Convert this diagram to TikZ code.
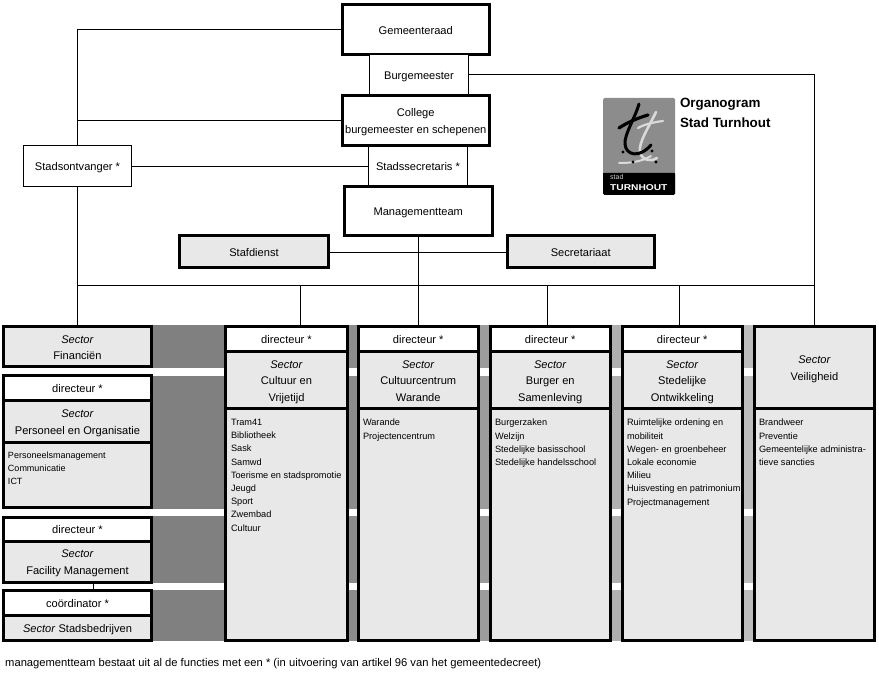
\documentclass[tikz,border=0pt]{standalone}
\usepackage{graphicx}
\usepackage{fontspec}
\setmainfont{Liberation Sans}
\newcommand\mainsz{\fontsize{11.1}{16.5}\selectfont}
\newcommand\listsz{\fontsize{9.2}{13.2}\selectfont}
\newcommand\smallsz{\fontsize{9}{13}\selectfont}
\definecolor{boxgray}{HTML}{E8E8E8}
\newcommand\bx[7]{%
  \pgfmathsetmacro\bw{#4-#2}\pgfmathsetmacro\bh{#5-#3}%
  \pgfmathsetmacro\bcx{(#4+#2)/2}\pgfmathsetmacro\bcy{(#5+#3)/2}%
  \node[#6,minimum width=\bw pt,minimum height=\bh pt] (#1) at (\bcx,\bcy) {};
  \node[boxtext] (#1-t) at ([yshift=-2.2pt]#1.center) {#7}}
\tikzset{
  x=1pt,y=-1pt,
  base/.style={rectangle,inner sep=0pt,outer sep=0pt},
  boxtext/.style={inner sep=0pt,outer sep=0pt,align=center,font=\mainsz,text=black,
    execute at begin node={\rule{0pt}{8pt}},execute at end node={\rule[-3pt]{0pt}{3pt}}},
  thickwhite/.style={base,draw=black,line width=3pt,fill=white},
  thickgray/.style={base,draw=black,line width=3pt,fill=boxgray},
  thinbox/.style={base,draw=black,line width=0.9pt,fill=white},
  plainbox/.style={base,fill=white},
  conn/.style={draw=black,line width=0.9pt},
  listtext/.style={inner sep=0pt,outer sep=0pt,anchor=north west,align=left,font=\listsz,text=black},
  titletext/.style={inner sep=0pt,outer sep=0pt,anchor=north west,align=left,font=\fontsize{13.4}{19.5}\selectfont\bfseries},
}
\begin{document}
\begin{tikzpicture}
\useasboundingbox (0,0) rectangle (879,676);
% gray bands behind the sectors
\foreach \xa/\xb/\col in {153/224/808080,349/357/8C8C8C,480/489/9C9C9C,611/621/B0B0B0,743/753/BDBDBD}{
  \definecolor{bandc}{HTML}{\col}
  \foreach \ya/\yb in {325/368,376/509,516/583,590/641}{
    \fill[bandc] (\xa,\ya) rectangle (\xb,\yb);
  }
}
% top of the chart
\bx{gem}{342.5}{5}{489}{54.5}{thickwhite} {Gemeenteraad};
\bx{burg}{369.5}{55}{468.5}{94}{plainbox} {Burgemeester};
\bx{coll}{342.5}{95.5}{489}{145.5}{thickwhite} {College\\[0.5pt]burgemeester en schepenen};
\bx{secr}{368.5}{147}{467.5}{185}{plainbox} {Stadssecretaris *};
\bx{mt}{344.5}{186.5}{492}{236}{thickwhite} {Managementteam};
\bx{ontv}{23.5}{145.5}{131.5}{186.5}{thinbox} {Stadsontvanger *};
\bx{staf}{179.5}{236}{328.5}{268}{thickgray} {Stafdienst};
\bx{sec}{507.5}{236}{654}{268}{thickgray} {Secretariaat};
% left stack
\bx{fin}{3.5}{326.5}{151.5}{367}{thickgray} {\textit{Sector}\\Financiën};
\bx{pod}{3.5}{375.5}{151.5}{400.5}{thickwhite} {directeur *};
\bx{pos}{3.5}{400.5}{151.5}{442.5}{thickgray} {\textit{Sector}\\Personeel en Organisatie};
\bx{pob}{3.5}{442.5}{151.5}{507.5}{thickgray} {};
\bx{fad}{3.5}{517}{151.5}{541}{thickwhite} {directeur *};
\bx{fas}{3.5}{541}{151.5}{582}{thickgray} {\textit{Sector}\\Facility Management};
\bx{cod}{3.5}{590.5}{151.5}{615.5}{thickwhite} {coördinator *};
\bx{cos}{3.5}{615.5}{151.5}{640}{thickgray} {\textit{Sector} Stadsbedrijven};
% columns
\bx{cud}{225.5}{326.5}{347.5}{351.5}{thickwhite} {directeur *};
\bx{cus}{225.5}{351.5}{347.5}{408.5}{thickgray} {\textit{Sector}\\Cultuur en\\Vrijetijd};
\bx{cub}{225.5}{408.5}{347.5}{640}{thickgray} {};
\bx{ced}{358}{326.5}{478.5}{351.5}{thickwhite} {directeur *};
\bx{ces}{358}{351.5}{478.5}{408.5}{thickgray} {\textit{Sector}\\Cultuurcentrum\\Warande};
\bx{ceb}{358}{408.5}{478.5}{640}{thickgray} {};
\bx{bud}{490}{326.5}{610.5}{351.5}{thickwhite} {directeur *};
\bx{bus}{490}{351.5}{610.5}{408.5}{thickgray} {\textit{Sector}\\Burger en\\Samenleving};
\bx{bub}{490}{408.5}{610.5}{640}{thickgray} {};
\bx{std}{622}{326.5}{742.5}{351.5}{thickwhite} {directeur *};
\bx{sts}{622}{351.5}{742.5}{408.5}{thickgray} {\textit{Sector}\\Stedelijke\\Ontwikkeling};
\bx{stb}{622}{408.5}{742.5}{640}{thickgray} {};
\bx{ves}{754.5}{326.5}{874.5}{408.5}{thickgray} {\textit{Sector}\\Veiligheid};
\bx{veb}{754.5}{408.5}{874.5}{640}{thickgray} {};
% lists
\node[listtext,font=\smallsz] (pol) at (8,451.5) {Personeelsmanagement\\Communicatie\\ICT};
\node[listtext] (cul) at (231,419.2) {Tram41\\Bibliotheek\\Sask\\Samwd\\Toerisme en stadspromotie\\Jeugd\\Sport\\Zwembad\\Cultuur};
\node[listtext] (cel) at (363,419.2) {Warande\\Projectencentrum};
\node[listtext] (bul) at (495,419.2) {Burgerzaken\\Welzijn\\Stedelijke basisschool\\Stedelijke handelsschool};
\node[listtext] (stl) at (627,419.2) {Ruimtelijke ordening en\\mobiliteit\\Wegen- en groenbeheer\\Lokale economie\\Milieu\\Huisvesting en patrimonium\\Projectmanagement};
\node[listtext] (vel) at (759,419.2) {Brandweer\\Preventie\\Gemeentelijke administra-\\tieve sancties};
% connectors
\coordinate (busl) at (77.5,285.5);
\coordinate (busr) at (814.5,285.5);
\draw[conn] (ontv.north) |- (gem.west);
\draw[conn] (ontv.north) |- (coll.west);
\draw[conn] (ontv.east) -- (secr.west);
\draw[conn] (ontv.south) -- (fin.north);
\draw[conn] (busl) -- (busr);
\draw[conn] (burg.north west) -- (burg.south west);
\draw[conn] (burg.north east) -- (burg.south east);
\draw[conn] (secr.north west) -- (secr.south west);
\draw[conn] (secr.north east) -- (secr.south east);
\draw[conn] (burg.east) -| (ves.north);
\draw[conn] (staf.east) -- (sec.west);
\draw[conn] (mt.south) -- (ced.north);
\draw[conn] ([xshift=14pt]cud.north) -- ([xshift=14pt]cud.north |- busl);
\draw[conn] ([xshift=-2.7pt]bud.north) -- ([xshift=-2.7pt]bud.north |- busl);
\draw[conn] ([xshift=-2.7pt]std.north) -- ([xshift=-2.7pt]std.north |- busl);
\draw[conn] ([xshift=16pt]fas.south) -- ([xshift=16pt]cod.north);
% logo
\fill[black!45,rounded corners=1.5pt] (603,98) rectangle (675,195);
\fill[black,rounded corners=1.5pt] (603,173) rectangle (675,195);
\fill[black] (603,173) rectangle (675,180);
\draw[white!85!black,line width=2.6pt,line cap=round] (656,112) .. controls (650,125) and (638,143) .. (640,152) .. controls (642,161) and (652,162) .. (657,158);
\draw[white!85!black,line width=2.2pt,line cap=round] (638,128) .. controls (645,124) and (655,122) .. (663,121);
\draw[white!85!black,line width=2pt,line cap=round] (619,163) .. controls (630,163) and (641,162) .. (651,156);
\draw[black,line width=3pt,line cap=round] (639,104) .. controls (635,118) and (624,135) .. (625,144) .. controls (626,156) and (640,158) .. (651,145);
\draw[black,line width=3.2pt,line cap=round] (619,128) .. controls (628,122) and (638,118) .. (648,115);
\foreach \dx/\dy in {623/152,633/162,652/151,656/162}{\fill[black] (\dx,\dy) circle (1.6);}
\node[inner sep=0pt,anchor=base west,text=white!80!black,font=\fontsize{7}{8}\selectfont] (logostad) at (610,180) {stad};
\node[inner sep=0pt,anchor=base west,text=white,font=\fontsize{8.5}{9}\selectfont\bfseries] (logotn) at (610,190.5) {\scalebox{1.2}[1]{TURNHOUT}};
% title and footer
\node[titletext] (title) at (680,98.5) {Organogram\\Stad Turnhout};
\node[inner sep=0pt,anchor=base west,text=black,font=\fontsize{11.2}{13}\selectfont] (foot) at (5,666) {managementteam bestaat uit al de functies met een * (in uitvoering van artikel 96 van het gemeentedecreet)};
\end{tikzpicture}
\end{document}
